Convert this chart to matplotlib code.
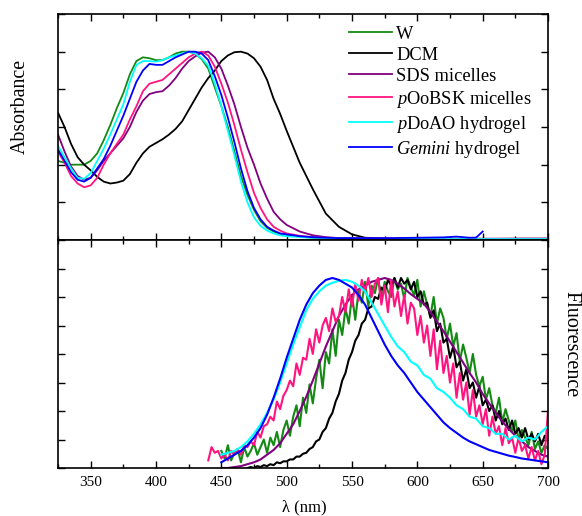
import matplotlib
matplotlib.use("Agg")
import matplotlib.pyplot as plt
from matplotlib.ticker import MultipleLocator, NullFormatter
import numpy as np

plt.rcParams['font.family'] = ['Liberation Serif', 'DejaVu Serif']
plt.rcParams['mathtext.fontset'] = 'custom'
plt.rcParams['mathtext.rm'] = 'Liberation Serif'
plt.rcParams['mathtext.it'] = 'Liberation Serif:italic'

# ---------------- legend / style ----------------
labels = ['W', 'DCM', 'SDS micelles', r'$\it{p}$OoBSK micelles',
          r'$\it{p}$DoAO hydrogel', r'$\it{Gemini}$ hydrogel']
colors = ['#138a13', '#000000', '#800080', '#ff1480', '#00ffff', '#0000ff']

x_ticks = [350, 400, 450, 500, 550, 600, 650, 700]

# ---------------- absorbance (normalised) ----------------
abs_wl = [325, 330, 335, 340, 345, 350, 355, 360, 365, 370, 375, 380, 385, 390,
          395, 400, 405, 410, 415, 420, 425, 430, 435, 440, 445, 450, 455, 460,
          465, 470, 475, 480, 485, 490, 495, 500,
          510, 520, 530, 540, 550, 560, 580, 600, 620, 640, 660, 680, 700]

abs_w = [0.42, 0.41, 0.40, 0.40, 0.40, 0.42, 0.46, 0.53, 0.61, 0.70, 0.78, 0.88, 0.95, 0.97,
         0.965, 0.955, 0.955, 0.97, 0.99, 1.0, 1.0, 0.99, 0.96, 0.91, 0.81, 0.71, 0.60, 0.47,
         0.34, 0.24, 0.16, 0.10, 0.065, 0.045, 0.033, 0.027,
         0.018, 0.012, 0.010, 0.008, 0.007, 0.006, 0.006, 0.005, 0.005, 0.005, 0.005, 0.004, 0.004]

abs_dcm = [0.676, 0.60, 0.51, 0.44, 0.40, 0.37, 0.335, 0.31, 0.30, 0.305, 0.315, 0.35, 0.41, 0.46,
           0.495, 0.515, 0.535, 0.56, 0.59, 0.63, 0.69, 0.75, 0.81, 0.86, 0.90, 0.95, 0.98, 0.997,
           1.0, 0.99, 0.965, 0.92, 0.85, 0.75, 0.67, 0.58,
           0.41, 0.27, 0.14, 0.07, 0.03, 0.012, 0.007, 0.006, 0.005, 0.005, 0.005, 0.004, 0.004]

abs_sds = [0.56, 0.47, 0.39, 0.34, 0.32, 0.33, 0.37, 0.42, 0.46, 0.50, 0.54, 0.60, 0.68, 0.74,
           0.775, 0.785, 0.79, 0.82, 0.86, 0.91, 0.95, 0.975, 0.995, 1.0, 0.97, 0.91, 0.82, 0.72,
           0.60, 0.49, 0.40, 0.30, 0.22, 0.15, 0.11, 0.08,
           0.045, 0.025, 0.015, 0.010, 0.008, 0.007, 0.007, 0.007, 0.006, 0.007, 0.007, 0.008, 0.008]

abs_poobsk = [0.47, 0.41, 0.34, 0.30, 0.28, 0.29, 0.33, 0.40, 0.46, 0.51, 0.56, 0.64, 0.71, 0.79,
              0.83, 0.84, 0.85, 0.88, 0.91, 0.94, 0.97, 0.99, 1.0, 0.98, 0.92, 0.83, 0.73, 0.61,
              0.48, 0.36, 0.25, 0.17, 0.11, 0.07, 0.05, 0.035,
              0.022, 0.015, 0.012, 0.010, 0.009, 0.008, 0.008, 0.007, 0.007, 0.006, 0.006, 0.006, 0.006]

abs_pdoao = [0.50, 0.44, 0.38, 0.33, 0.325, 0.355, 0.42, 0.485, 0.56, 0.64, 0.72, 0.84, 0.93, 0.95,
             0.95, 0.947, 0.955, 0.97, 0.98, 0.99, 1.0, 0.99, 0.965, 0.925, 0.83, 0.71, 0.58, 0.45,
             0.31, 0.20, 0.12, 0.075, 0.05, 0.035, 0.025, 0.02,
             0.015, 0.012, 0.010, 0.008, 0.007, 0.006, 0.006, 0.005, 0.005, 0.005, 0.005, 0.005, 0.005]

abs_gem_wl = [325, 330, 335, 340, 345, 350, 355, 360, 365, 370, 375, 380, 385, 390,
              395, 400, 405, 410, 415, 420, 425, 430, 435, 440, 445, 450, 455, 460,
              465, 470, 475, 480, 485, 490, 495, 500,
              510, 520, 530, 540, 550, 560, 580, 600, 620, 630, 640, 645, 650]
abs_gem = [0.48, 0.42, 0.36, 0.32, 0.31, 0.33, 0.38, 0.43, 0.50, 0.58, 0.66, 0.75, 0.84, 0.90,
           0.935, 0.93, 0.93, 0.95, 0.97, 0.985, 1.0, 1.0, 0.99, 0.955, 0.87, 0.77, 0.65, 0.52,
           0.38, 0.26, 0.17, 0.11, 0.07, 0.05, 0.035, 0.03,
           0.02, 0.015, 0.012, 0.010, 0.010, 0.010, 0.010, 0.012, 0.014, 0.018, 0.012, 0.013, 0.045]

# ---------------- fluorescence (normalised) ----------------
fl_w_start, fl_w_step = 450, 2.5
fl_w = [0.09, 0.05, 0.12, 0.04, 0.08, 0.10, 0.03, 0.11, 0.06, 0.09,
        0.13, 0.07, 0.11, 0.15, 0.08, 0.16, 0.12, 0.19, 0.11, 0.20,
        0.25, 0.17, 0.27, 0.33, 0.22, 0.37, 0.29, 0.44, 0.34, 0.47,
        0.57, 0.42, 0.61, 0.55, 0.73, 0.59, 0.78, 0.70, 0.84, 0.76,
        0.91, 0.78, 0.93, 0.87, 0.98, 0.85, 0.96, 0.92, 1.00, 0.89,
        0.98, 0.93, 0.90, 1.00, 0.94, 0.97, 0.89, 1.00, 0.95, 0.91,
        0.99, 0.85, 0.93, 0.86, 0.80, 0.90, 0.76, 0.84, 0.79, 0.68,
        0.76, 0.64, 0.71, 0.56, 0.65, 0.58, 0.50, 0.60, 0.49, 0.43,
        0.48, 0.36, 0.42, 0.33, 0.29, 0.37, 0.24, 0.31, 0.25, 0.19,
        0.25, 0.15, 0.20, 0.16, 0.12, 0.19, 0.10, 0.14, 0.08, 0.12,
        0.10]

fl_dcm_start, fl_dcm_step = 470, 2.5
fl_dcm = [0.00, 0.005, 0.00, 0.01, 0.005, 0.015, 0.01, 0.02, 0.015, 0.03,
          0.025, 0.035, 0.035, 0.045, 0.045, 0.06, 0.06, 0.075, 0.08, 0.10,
          0.11, 0.14, 0.15, 0.19, 0.21, 0.26, 0.29, 0.35, 0.39, 0.46,
          0.50, 0.57, 0.61, 0.67, 0.70, 0.76, 0.78, 0.84, 0.85, 0.90,
          0.89, 0.95, 0.93, 0.99, 0.96, 1.00, 0.95, 1.00, 0.97, 0.99,
          0.94, 0.98, 0.90, 0.93, 0.86, 0.87, 0.79, 0.83, 0.72, 0.76,
          0.66, 0.68, 0.58, 0.64, 0.53, 0.56, 0.46, 0.52, 0.42, 0.45,
          0.37, 0.43, 0.33, 0.36, 0.30, 0.33, 0.25, 0.30, 0.23, 0.26,
          0.20, 0.25, 0.18, 0.21, 0.16, 0.21, 0.15, 0.18, 0.14, 0.18,
          0.12, 0.17,
          0.14]

fl_sds_start, fl_sds_step = 450, 5
fl_sds = [0.0, 0.0, 0.005, 0.01, 0.02, 0.03, 0.045, 0.07, 0.095, 0.13,
          0.18, 0.23, 0.30, 0.375, 0.46, 0.55, 0.64, 0.72, 0.80, 0.86,
          0.91, 0.94, 0.96, 0.98, 0.99, 1.0, 0.99, 0.97, 0.945, 0.915,
          0.89, 0.865, 0.82, 0.77, 0.72, 0.665, 0.61, 0.555, 0.50, 0.45,
          0.39, 0.34, 0.29, 0.245, 0.205, 0.17, 0.14, 0.11, 0.09, 0.07,
          0.06]

fl_poobsk_start, fl_poobsk_step = 440, 2.5
fl_poobsk = [0.04, 0.11, 0.08, 0.09, 0.05, 0.07, 0.04, 0.09, 0.07, 0.10,
             0.07, 0.12, 0.11, 0.14, 0.12, 0.19, 0.16, 0.22, 0.23, 0.27,
             0.25, 0.35, 0.31, 0.38, 0.41, 0.46, 0.43, 0.55, 0.49, 0.58,
             0.57, 0.68, 0.60, 0.73, 0.66, 0.75, 0.79, 0.72, 0.84, 0.77,
             0.80, 0.90, 0.82, 0.94, 0.85, 0.97, 0.88, 0.99, 0.93, 1.00,
             0.90, 0.97, 1.00, 0.86, 0.96, 0.82, 0.99, 0.85, 0.93, 0.80,
             0.91, 0.76, 0.87, 0.84, 0.70, 0.80, 0.66, 0.75, 0.59, 0.73,
             0.52, 0.67, 0.50, 0.59, 0.45, 0.55, 0.37, 0.50, 0.36, 0.45,
             0.28, 0.41, 0.27, 0.33, 0.23, 0.31, 0.17, 0.27, 0.18, 0.22,
             0.12, 0.21, 0.13, 0.16, 0.08, 0.16, 0.09, 0.12, 0.05, 0.11,
             0.04, 0.09, 0.02, 0.07,
             0.30]

fl_pdoao_start, fl_pdoao_step = 450, 5
fl_pdoao = [0.07, 0.08, 0.09, 0.11, 0.14, 0.18, 0.23, 0.29, 0.36, 0.45,
            0.55, 0.65, 0.74, 0.83, 0.89, 0.93, 0.96, 0.975, 0.985, 0.99,
            0.98, 0.96, 0.93, 0.87, 0.81, 0.75, 0.69, 0.64, 0.61, 0.56,
            0.54, 0.49, 0.47, 0.42, 0.40, 0.37, 0.33, 0.31, 0.27, 0.26,
            0.22, 0.21, 0.18, 0.18, 0.15, 0.17, 0.14, 0.16, 0.15, 0.19,
            0.22]

fl_gem_start, fl_gem_step = 450, 5
fl_gem = [0.03, 0.05, 0.07, 0.09, 0.12, 0.16, 0.21, 0.28, 0.37, 0.47,
          0.58, 0.68, 0.78, 0.86, 0.92, 0.96, 0.99, 1.0, 0.99, 0.97,
          0.95, 0.91, 0.86, 0.79, 0.72, 0.65, 0.59, 0.54, 0.50, 0.45,
          0.40, 0.36, 0.32, 0.28, 0.24, 0.21, 0.185, 0.16, 0.14, 0.125,
          0.11, 0.095, 0.085, 0.075, 0.065, 0.058, 0.05, 0.045, 0.04, 0.035,
          0.03]

# ---------------- figure ----------------
W, H = 582, 516
fig = plt.figure(figsize=(W / 100, H / 100), dpi=100)
L, R = 58 / W, 548 / W
ax1 = fig.add_axes([L, 1 - 240 / H, R - L, 226 / H])
ax2 = fig.add_axes([L, 1 - 468 / H, R - L, 228 / H])

abs_series = [(abs_wl, abs_w), (abs_wl, abs_dcm), (abs_wl, abs_sds),
              (abs_wl, abs_poobsk), (abs_wl, abs_pdoao), (abs_gem_wl, abs_gem)]
handles = []
for (x, y), c, lab in zip(abs_series, colors, labels):
    h, = ax1.plot(x, y, color=c, lw=1.3, label=lab)
    handles.append(h)

fl_series = [(fl_w_start, fl_w_step, fl_w), (fl_dcm_start, fl_dcm_step, fl_dcm),
             (fl_sds_start, fl_sds_step, fl_sds), (fl_poobsk_start, fl_poobsk_step, fl_poobsk),
             (fl_pdoao_start, fl_pdoao_step, fl_pdoao), (fl_gem_start, fl_gem_step, fl_gem)]
for (s, st, y), c in zip(fl_series, colors):
    x = s + st * np.arange(len(y))
    ax2.plot(x, y, color=c, lw=1.5)

for ax in (ax1, ax2):
    ax.set_xlim(325, 700)
    ax.set_ylim(0, 1.2)
    ax.xaxis.set_major_locator(MultipleLocator(50))
    ax.xaxis.set_minor_locator(MultipleLocator(25))
    ax.tick_params(which='both', direction='in', top=True, right=True, width=1.0)
    ax.tick_params(which='major', length=5)
    ax.tick_params(which='minor', length=3)
    ax.yaxis.set_major_formatter(NullFormatter())
    for sp in ax.spines.values():
        sp.set_linewidth(1.2)

ax1.yaxis.set_major_locator(MultipleLocator(0.2))
ax2.yaxis.set_major_locator(MultipleLocator(0.15))
ax1.xaxis.set_major_formatter(NullFormatter())
ax2.set_xticks(x_ticks)
ax2.set_xticklabels([str(t) for t in x_ticks], fontsize=11)
ax2.tick_params(axis='x', pad=6)

leg = ax1.legend(handles=handles, loc='upper left', bbox_to_anchor=(0.594, 0.949),
                 frameon=False, fontsize=13.2, handlelength=2.35, handletextpad=0.22,
                 labelspacing=0.22, borderpad=0, borderaxespad=0)

fig.text(20 / W, 1 - 106 / H, 'Absorbance', rotation=90, ha='center', va='center', fontsize=14.3)
fig.text(571 / W, 1 - 344 / H, 'Fluorescence', rotation=270, ha='center', va='center', fontsize=14.5)
fig.text(304 / W, 1 - 507 / H, 'λ (nm)', ha='center', va='center', fontsize=12)

fig.savefig('out.png', dpi=100)
